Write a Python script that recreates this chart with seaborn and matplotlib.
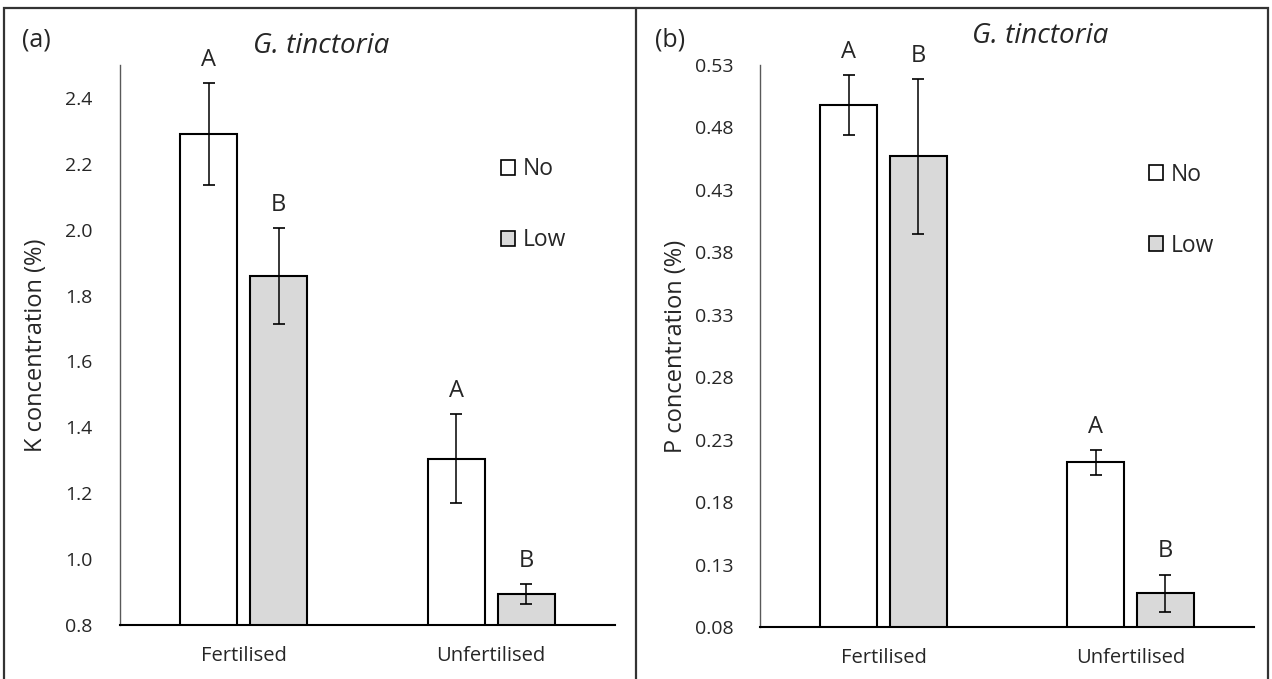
import pandas as pd
import matplotlib.pyplot as plt
import seaborn as sns
from matplotlib.patches import Rectangle
from matplotlib.lines import Line2D

# --- Data ---
treatments = ["Fertilised", "Unfertilised"]
levels = ["No", "Low"]

k_no = [2.29, 1.305]
k_low = [1.86, 0.895]
k_no_se = [0.155, 0.135]
k_low_se = [0.145, 0.03]

p_no = [0.498, 0.212]
p_low = [0.457, 0.107]
p_no_se = [0.024, 0.010]
p_low_se = [0.062, 0.015]

letters_no = ["A", "A"]
letters_low = ["B", "B"]

k_ticks = [0.8, 1.0, 1.2, 1.4, 1.6, 1.8, 2.0, 2.2, 2.4]
p_ticks = [0.08, 0.13, 0.18, 0.23, 0.28, 0.33, 0.38, 0.43, 0.48, 0.53]

sns.set_style("white")
plt.rcParams['font.family'] = ['Open Sans', 'DejaVu Sans']

colors = {"No": "white", "Low": "#d9d9d9"}


def make_df(no_vals, low_vals):
    rows = []
    for i, t in enumerate(treatments):
        rows.append({"treatment": t, "level": "No", "value": no_vals[i]})
        rows.append({"treatment": t, "level": "Low", "value": low_vals[i]})
    return pd.DataFrame(rows)


def draw_panel(ax, df, ses, letters, ylim, ticks, fmt, ylabel, legend_anchor, ypad, lpad):
    sns.barplot(data=df, x="treatment", y="value", hue="level", hue_order=levels,
                order=treatments, palette=colors, edgecolor="black", linewidth=1.5,
                width=0.566, gap=0.19, errorbar=None, ax=ax)
    ax.set_ylim(*ylim)
    ax.set_xlim(-0.5, 1.5)

    # error bars + significance letters on top of each bar
    for cont, se, lett in zip(ax.containers, ses, letters):
        xs = [b.get_x() + b.get_width() / 2 for b in cont]
        tops = [b.get_height() for b in cont]
        ax.errorbar(xs, tops, yerr=se, fmt="none", ecolor="black",
                    elinewidth=1.1, capsize=4, capthick=1.2)
        for x, t, s, l in zip(xs, tops, se, lett):
            ax.annotate(l, (x, t + s), xytext=(0, 8), textcoords="offset points",
                        ha="center", va="bottom", fontsize=17)

    ax.set_yticks(ticks)
    ax.set_yticklabels([fmt.format(v) for v in ticks], fontsize=14)
    ax.set_xticks([0, 1])
    ax.set_xticklabels(treatments, fontsize=14.5)
    ax.set_xticks([-0.5, 0.5, 1.5], minor=True)
    ax.tick_params(axis="x", which="major", length=0, pad=15)
    ax.tick_params(axis="x", which="minor", length=6, width=1.3, color="black", direction="out")
    ax.tick_params(axis="y", length=0, pad=ypad)
    ax.set_xlabel("")
    ax.set_ylabel(ylabel, fontsize=17, labelpad=lpad)

    for side in ["top", "right"]:
        ax.spines[side].set_visible(False)
    ax.spines["left"].set_color("#595959")
    ax.spines["left"].set_linewidth(1.0)
    ax.spines["bottom"].set_color("black")
    ax.spines["bottom"].set_linewidth(1.5)

    handles, labels = ax.get_legend_handles_labels()
    leg = ax.legend(handles, labels, loc="upper left", bbox_to_anchor=legend_anchor,
                    frameon=False, fontsize=16.5, handlelength=0.6, handleheight=0.6,
                    handletextpad=0.35, labelspacing=2.05, borderpad=0, borderaxespad=0)
    for h in leg.legend_handles:
        h.set_linewidth(1.2)


fig = plt.figure(figsize=(12.72, 6.79), dpi=100)
W, H = 1272, 679

ax1 = fig.add_axes([120 / W, 1 - 625 / H, 495 / W, 560 / H])
ax2 = fig.add_axes([760 / W, 1 - 627 / H, 494 / W, 562 / H])

draw_panel(ax1, make_df(k_no, k_low), [k_no_se, k_low_se], [letters_no, letters_low],
           (0.8, 2.5), k_ticks, "{:.1f}", "K concentration (%)", (0.77, 0.835), 20, 12)
draw_panel(ax2, make_df(p_no, p_low), [p_no_se, p_low_se], [letters_no, letters_low],
           (0.08, 0.53), p_ticks, "{:.2f}", "P concentration (%)", (0.787, 0.826), 19, 5)

# titles and panel letters
fig.text(321 / W, 1 - 46 / H, "G. tinctoria", style="italic", fontsize=20, ha="center", va="center")
fig.text(1040 / W, 1 - 36 / H, "G. tinctoria", style="italic", fontsize=20, ha="center", va="center")
fig.text(22 / W, 1 - 40 / H, "(a)", fontsize=18, ha="left", va="center")
fig.text(655 / W, 1 - 40 / H, "(b)", fontsize=18, ha="left", va="center")

# panel frames
fig.add_artist(Rectangle((4 / W, -0.01), 1264 / W, 1.01 - 8 / H, transform=fig.transFigure,
                         fill=False, edgecolor="#333333", linewidth=1.6))
fig.add_artist(Line2D([636 / W, 636 / W], [-0.01, 1 - 8 / H], transform=fig.transFigure,
                      color="#333333", linewidth=1.6))

fig.savefig("out.png", dpi=100, facecolor="white")
